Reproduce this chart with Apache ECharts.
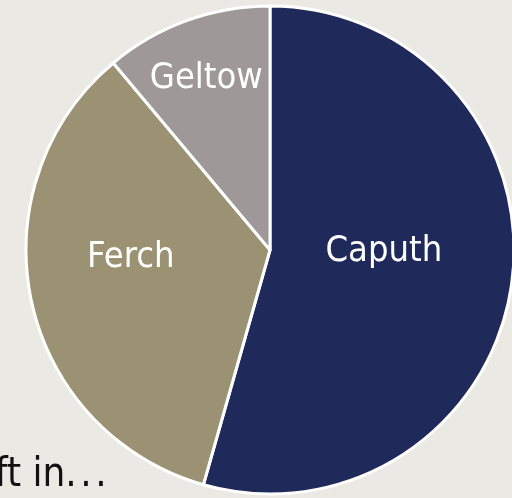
<!DOCTYPE html>
<html><head><meta charset="utf-8">
<script src="https://cdn.jsdelivr.net/npm/echarts@6/dist/echarts.min.js"></script>
<style>html,body{margin:0;padding:0;background:#ebe9e4;}#c{width:512px;height:498px;}</style>
</head><body><div id="c"></div>
<script>
const categories = ['Caputh', 'Ferch', 'Geltow'];
const values = [54.4, 34.5, 11.1];
const colors = ['#1f2a5a', '#9b9274', '#9e9899'];
const labelShift = [[-10, -16], [-17, -18], [-21, -54]];
const titleText = 'ft in.\u200a.\u200a.';
const FONT = '"DejaVu Sans Condensed", sans-serif';

const chart = echarts.init(document.getElementById('c'), null, {renderer: 'canvas'});
chart.setOption({
  backgroundColor: '#ebe9e4',
  animation: false,
  graphic: [{
    type: 'text', left: -5, top: 456,
    style: { text: titleText, fontFamily: FONT, fontSize: 40, fill: '#111' }
  }],
  series: [{
    type: 'pie',
    center: [270, 250],
    radius: 244,
    startAngle: 90,
    clockwise: true,
    avoidLabelOverlap: false,
    itemStyle: { borderColor: '#ffffff', borderWidth: 3 },
    label: { show: true, position: 'inside', color: '#ffffff', fontFamily: FONT, fontSize: 36, formatter: '{b}' },
    labelLine: { show: false },
    labelLayout: function (p) { const s = labelShift[p.dataIndex]; return { dx: s[0], dy: s[1] }; },
    data: categories.map((c, i) => ({ name: c, value: values[i], itemStyle: { color: colors[i] } }))
  }]
});
</script></body></html>
